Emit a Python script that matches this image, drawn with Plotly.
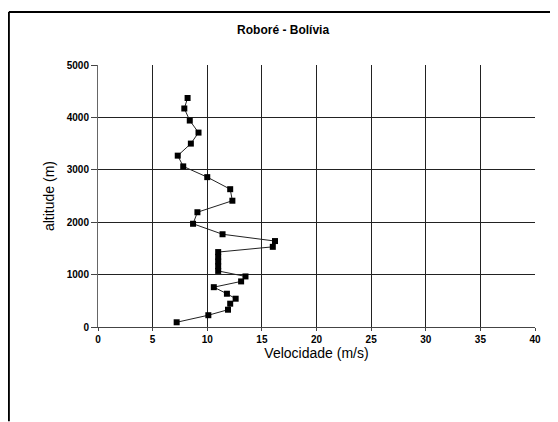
import plotly.graph_objects as go

velocidade = [7.2, 10.1, 11.9, 12.1, 12.6, 11.8, 10.6, 13.1, 13.5, 11.0, 11.0, 11.0, 11.0, 11.0,
              16.0, 16.2, 11.4, 8.7, 9.1, 12.3, 12.1, 10.0, 7.8, 7.3, 8.5, 9.2, 8.4, 7.9, 8.2]
altitude = [90, 225, 330, 445, 540, 635, 760, 870, 965, 1070, 1160, 1250, 1340, 1430,
            1530, 1640, 1770, 1970, 2190, 2410, 2630, 2860, 3065, 3270, 3500, 3710, 3940, 4170, 4370]

x_ticks = [0, 5, 10, 15, 20, 25, 30, 35, 40]
y_ticks = [0, 1000, 2000, 3000, 4000, 5000]

fig = go.Figure()
fig.add_trace(go.Scatter(
    x=velocidade, y=altitude, mode="lines+markers",
    line={"color": "#222", "width": 1},
    marker={"symbol": "square", "size": 6, "color": "black"},
    showlegend=False,
))

axis_font = {"family": "Arial, Liberation Sans", "size": 10, "color": "black"}
fig.update_xaxes(
    range=[0, 40], tickvals=x_ticks, ticktext=[f"<b>{v}</b>" for v in x_ticks],
    showgrid=True, gridcolor="#222", gridwidth=1,
    showline=True, linecolor="#444", linewidth=1, zeroline=False,
    ticks="outside", ticklen=3, tickcolor="#444",
    tickfont=axis_font,
    title={"text": "Velocidade (m/s)", "font": {"family": "Arial, Liberation Sans", "size": 14, "color": "black"}, "standoff": 0},
)
fig.update_yaxes(
    range=[0, 5000], tickvals=y_ticks, ticktext=[f"<b>{v}</b>" for v in y_ticks],
    showgrid=True, gridcolor="#222", gridwidth=1,
    showline=True, linecolor="#666", linewidth=1, zeroline=False,
    ticks="outside", ticklen=6, tickcolor="#444",
    tickfont=axis_font,
    title={"text": "altitude (m)", "font": {"family": "Arial, Liberation Sans", "size": 14, "color": "black"}, "standoff": 8},
)

fig.update_layout(
    width=558, height=422,
    margin={"l": 90, "r": 31, "t": 57, "b": 103},
    paper_bgcolor="white", plot_bgcolor="white",
    title={"text": "<b>Roboré - Bolívia</b>", "x": 0.493, "xanchor": "center", "y": 0.948, "yanchor": "middle",
           "font": {"family": "Arial, Liberation Sans", "size": 12, "color": "black"}},
    shapes=[
        {"type": "line", "xref": "paper", "yref": "paper", "x0": -0.204, "x1": 1.1, "y0": 1.202, "y1": 1.202,
         "line": {"color": "black", "width": 2}},
        {"type": "line", "xref": "paper", "yref": "paper", "x0": -0.204, "x1": -0.204, "y0": 1.202, "y1": -0.36,
         "line": {"color": "black", "width": 2}},
    ],
)

fig.write_html("out.html")
